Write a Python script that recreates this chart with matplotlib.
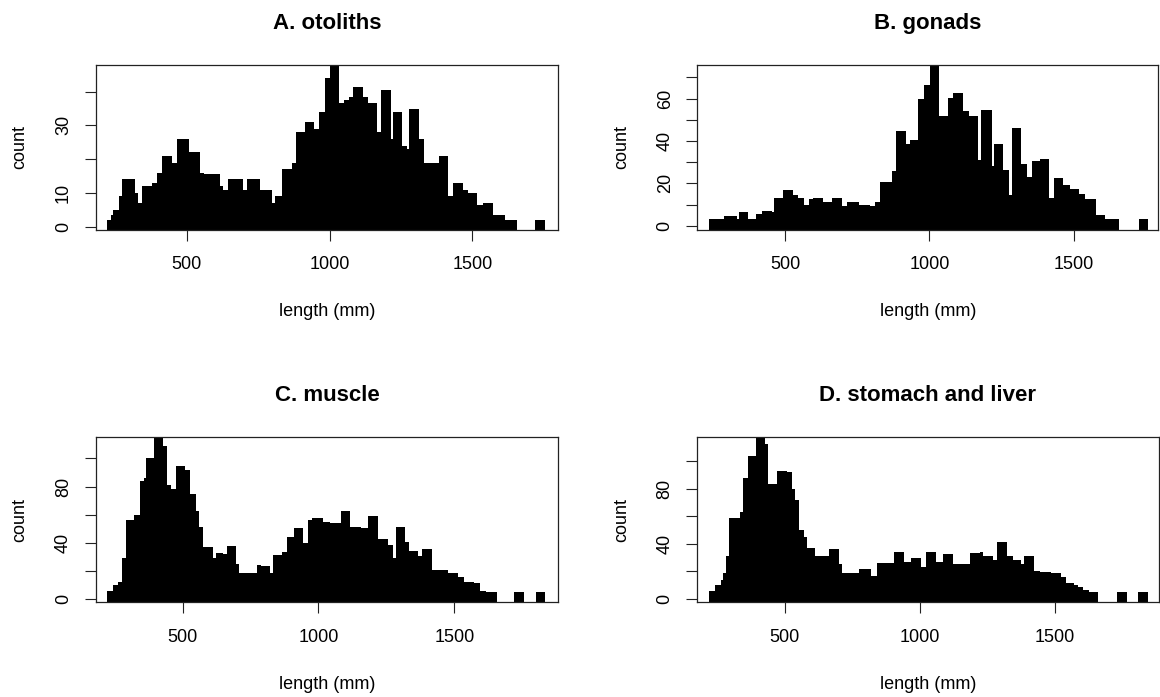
import numpy as np
import matplotlib.pyplot as plt

plt.rcParams['font.family'] = ['Liberation Sans', 'DejaVu Sans']

# step edges (mm) and counts
edges_a = [222, 234, 243, 263, 272, 317, 328, 342, 377, 395, 412, 447, 467, 509, 546,
           560, 616, 628, 643, 698, 712, 757, 797, 809, 832, 867, 881, 913, 946, 964,
           984, 1002, 1034, 1051, 1067, 1081, 1116, 1133, 1165, 1180, 1215, 1221, 1252, 1270, 1279,
           1312, 1331, 1351, 1382, 1415, 1431, 1466, 1485, 1515, 1538, 1574, 1614, 1655, 1719, 1754]
counts_a = [2, 3.5, 5, 9, 14, 10, 7, 12, 13, 16, 21, 19, 26, 22, 16,
            15.5, 12, 11, 14, 11, 14, 11, 7, 9, 17, 19, 28, 31, 29, 34,
            44, 48, 36.5, 37.5, 38.5, 41.5, 38.5, 36.5, 28, 40.5, 26, 34, 24, 23, 35,
            26, 19, 19, 21, 9, 13, 11, 10, 6.5, 7, 3.5, 2, 0, 2]

edges_b = [238, 290, 333, 342, 373, 400, 419, 454, 463, 492, 527, 546, 567, 584, 598,
           633, 664, 696, 713, 756, 794, 811, 829, 871, 884, 918, 934, 961, 982, 1002,
           1034, 1065, 1082, 1117, 1137, 1167, 1180, 1215, 1223, 1256, 1275, 1284, 1317, 1336, 1354,
           1382, 1414, 1431, 1463, 1486, 1518, 1538, 1575, 1607, 1656, 1725, 1757]
counts_b = [3, 4.5, 3, 6.5, 3, 5.5, 7, 6.5, 13, 17, 14.5, 13, 10, 12.5, 13,
            11, 13, 9.5, 11, 10, 9.5, 11, 20.5, 26, 44.5, 38.5, 40.5, 60, 66.5, 76,
            52, 60.5, 62.5, 54, 52, 31, 54.5, 28, 38.5, 26.5, 14.5, 46, 29, 23, 30.5,
            31.5, 13, 22.5, 19, 17.5, 15, 12.5, 5, 3, 0, 3]

edges_c = [222, 242, 263, 278, 290, 322, 343, 359, 364, 394, 429, 441, 457, 474, 508,
           527, 549, 561, 576, 610, 623, 650, 662, 695, 707, 742, 772, 788, 821, 831,
           864, 883, 910, 942, 963, 978, 1018, 1042, 1082, 1118, 1156, 1181, 1218, 1257, 1273,
           1285, 1318, 1334, 1368, 1382, 1419, 1441, 1476, 1515, 1537, 1574, 1595, 1615, 1658, 1721,
           1757, 1800, 1835]
counts_c = [6, 10, 12.5, 29, 56, 60, 84, 86, 100, 115, 109, 81.5, 78.5, 94.5, 92,
            75, 63, 51, 37, 29, 33, 32, 38, 25, 18.5, 19, 24.5, 24, 19, 31.5,
            33.5, 44.5, 50.5, 40, 56, 58, 55, 54, 63, 51, 50.5, 59.5, 43, 38.5, 29.5,
            51, 41, 34.5, 31, 36, 21, 21, 19, 16, 12.5, 11.5, 6, 5, 0, 5,
            0, 5]

edges_d = [220, 241, 262, 272, 282, 294, 334, 346, 362, 393, 426, 438, 469, 509, 527,
           539, 552, 570, 580, 611, 662, 700, 712, 755, 773, 820, 839, 904, 941, 968,
           1002, 1023, 1060, 1085, 1122, 1162, 1186, 1220, 1233, 1270, 1284, 1321, 1344, 1374, 1384,
           1421, 1442, 1485, 1520, 1538, 1568, 1586, 1602, 1624, 1660, 1728, 1765, 1808, 1842]
counts_d = [6, 10, 14, 19, 31, 59, 63, 88, 104, 117, 112, 83, 93, 92, 80,
            72, 50, 45, 37, 31, 36, 25, 19, 18.5, 22, 17, 26, 34, 27, 29.5,
            23.5, 34, 26.5, 32.5, 25.5, 25, 33, 34, 31, 28, 41.5, 31.5, 28.5, 25.5, 31,
            20.5, 19.5, 18.5, 16, 11.5, 10, 9, 6.5, 5, 0, 5, 0, 5]

titles = ["A. otoliths", "B. gonads", "C. muscle", "D. stomach and liver"]
x_ticks = [500, 1000, 1500]
y_ticks_a = [0, 10, 20, 30, 40]
y_labels_a = ["0", "10", "", "30", ""]
y_ticks_b = [0, 10, 20, 30, 40, 50, 60, 70]
y_labels_b = ["0", "", "20", "", "40", "", "60", ""]
y_ticks_cd = [0, 20, 40, 60, 80, 100]
y_labels_cd = ["0", "", "40", "", "80", ""]

W, H = 1160, 697
fig = plt.figure(figsize=(W / 100, H / 100), dpi=100)

panels = [
    # (box in px: left, top, right, bottom), xlim, ylim, data, yticks
    ((95.7, 64.7, 558.3, 230.0), (181, 1801), (-1.0, 48.0), edges_a, counts_a, y_ticks_a, y_labels_a),
    ((697.3, 64.7, 1158.3, 230.0), (196.5, 1792), (-2.0, 76.0), edges_b, counts_b, y_ticks_b, y_labels_b),
    ((95.7, 437.3, 558.3, 602.3), (180, 1883), (-2.1, 115.0), edges_c, counts_c, y_ticks_cd, y_labels_cd),
    ((697.3, 437.3, 1158.5, 602.3), (176, 1882), (-2.4, 117.2), edges_d, counts_d, y_ticks_cd, y_labels_cd),
]

for i, (box, xl, yl, edges, counts, yt, ylab) in enumerate(panels):
    l, t, r, b = box
    ax = fig.add_axes([l / W, 1 - b / H, (r - l) / W, (b - t) / H])

    e = np.array(edges, dtype=float)
    c = np.array(counts, dtype=float)
    keep = c > 0
    # bars run down to the bottom of the box, as in the original
    ax.bar(e[:-1][keep], c[keep] - yl[0], width=np.diff(e)[keep], bottom=yl[0],
           align='edge', color='black', linewidth=0)
    ax.set_xlim(*xl)
    ax.set_ylim(*yl)

    ax.set_xticks(x_ticks)
    ax.set_xticklabels([str(v) for v in x_ticks])
    ax.set_yticks(yt)
    ax.set_yticklabels(ylab, rotation=90, va='center')
    ax.tick_params(direction='out', length=8, width=0.8, labelsize=13, color='#222222')
    ax.tick_params(axis='x', pad=11)
    ax.tick_params(axis='y', pad=9)
    for s in ax.spines.values():
        s.set_linewidth(0.9)
        s.set_color('#222222')

    ax.set_title(titles[i], fontsize=16, fontweight='bold', pad=26)
    ax.set_xlabel("length (mm)", fontsize=13)
    ax.set_ylabel("count", fontsize=13)
    w_px, h_px = r - l, b - t
    ax.xaxis.set_label_coords(0.5, -82 / h_px)
    ax.xaxis.label.set_va('center')
    ax.yaxis.set_label_coords(-76 / w_px, 0.5)
    ax.yaxis.label.set_va('center')

fig.savefig("out.png", dpi=100)
